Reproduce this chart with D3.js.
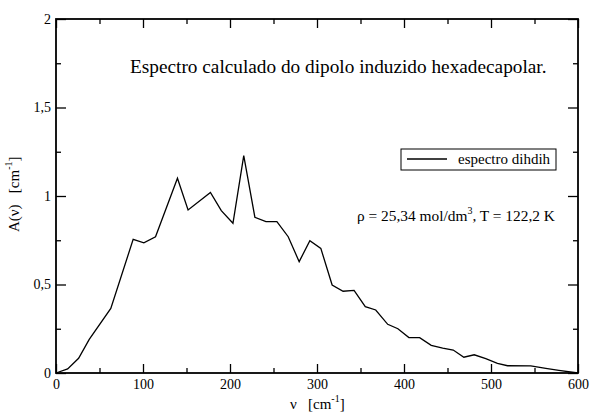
<!DOCTYPE html>
<html><head><meta charset="utf-8">
<script src="https://cdn.jsdelivr.net/npm/d3@7"></script>
<style>body{margin:0;background:#fff}text{font-family:"Liberation Serif","Times New Roman",serif;fill:#000;white-space:pre}</style>
</head><body><svg id="c" width="592" height="412"></svg>
<script>
const nu = [0, 13.4, 26, 38.2, 63, 88.7, 101, 114.4, 139.6, 151.8, 177.5, 190, 203.4, 215.8, 228.6, 241.3, 253.9, 266.9, 279.5, 291.8, 304.4, 317.4, 330, 342.6, 355.5, 367.5, 381.3, 393, 405.6, 418, 431.3, 444.5, 456.6, 468.8, 480.7, 494, 507.4, 519, 545.7, 563, 578, 600];
const A  = [0, 0.023, 0.083, 0.19, 0.365, 0.755, 0.735, 0.77, 1.10, 0.921, 1.02, 0.917, 0.846, 1.228, 0.88, 0.855, 0.855, 0.77, 0.629, 0.747, 0.704, 0.497, 0.462, 0.467, 0.375, 0.356, 0.275, 0.25, 0.2, 0.2, 0.156, 0.141, 0.13, 0.089, 0.103, 0.081, 0.055, 0.041, 0.04, 0.026, 0.015, 0];
const xTicks = [0, 100, 200, 300, 400, 500, 600];
const xMinor = [50, 150, 250, 350, 450, 550];
const yTicks = [0, 0.5, 1, 1.5, 2];
const yMinor = [0.25, 0.75, 1.25, 1.75];
const yTickLabels = ["0", "0,5", "1", "1,5", "2"];
const seriesName = "espectro dihdih";
const title = "Espectro calculado do dipolo induzido hexadecapolar.";

(function () {
const L = 56, R = 578, T = 19, B = 373;
const svg = d3.select("#c");
const x = d3.scaleLinear().domain([0, 600]).range([L, R]);
const y = d3.scaleLinear().domain([0, 2]).range([B, T]);

// curve
svg.append("path").datum(nu.map((v, i) => [v, A[i]]))
  .attr("fill", "none").attr("stroke", "#000").attr("stroke-width", 1.3)
  .attr("stroke-linejoin", "miter")
  .attr("d", d3.line().x(d => x(d[0])).y(d => y(d[1])));

// axes with inward ticks
const fmt = (v) => yTickLabels[yTicks.indexOf(v)];
svg.append("g").attr("transform", `translate(0,${B})`)
  .call(d3.axisBottom(x).tickValues(xTicks).tickSize(-9).tickPadding(6).tickFormat(d3.format("d")));
svg.append("g").attr("transform", `translate(0,${B})`)
  .call(d3.axisBottom(x).tickValues(xMinor).tickSize(-5).tickFormat(""));
svg.append("g").attr("transform", `translate(0,${T})`)
  .call(d3.axisTop(x).tickValues(xTicks).tickSize(-9).tickFormat(""));
svg.append("g").attr("transform", `translate(0,${T})`)
  .call(d3.axisTop(x).tickValues(xMinor).tickSize(-5).tickFormat(""));
svg.append("g").attr("transform", `translate(${L},0)`)
  .call(d3.axisLeft(y).tickValues(yTicks).tickSize(-10).tickPadding(5).tickFormat(fmt));
svg.append("g").attr("transform", `translate(${L},0)`)
  .call(d3.axisLeft(y).tickValues(yMinor).tickSize(-5).tickFormat(""));
svg.append("g").attr("transform", `translate(${R},0)`)
  .call(d3.axisRight(y).tickValues(yTicks).tickSize(-10).tickFormat(""));
svg.append("g").attr("transform", `translate(${R},0)`)
  .call(d3.axisRight(y).tickValues(yMinor).tickSize(-5).tickFormat(""));
svg.selectAll(".domain").remove();
svg.selectAll("g").attr("font-family", null).attr("font-size", null);
svg.selectAll(".tick line").attr("stroke", "#000").attr("stroke-width", 1.3);
svg.selectAll(".tick text").style("font-size", "14px").attr("fill", "#000");

// frame
svg.append("rect").attr("x", L).attr("y", T).attr("width", R - L).attr("height", B - T)
  .attr("fill", "none").attr("stroke", "#000").attr("stroke-width", 1.8);

// title
svg.append("text").attr("x", 130).attr("y", 73).style("font-size", "19.3px").text(title);

// legend
const lg = svg.append("g");
lg.append("rect").attr("x", 401).attr("y", 149).attr("width", 155).attr("height", 21)
  .attr("fill", "#fff").attr("stroke", "#000").attr("stroke-width", 1);
lg.append("line").attr("x1", 407).attr("x2", 447).attr("y1", 159).attr("y2", 159)
  .attr("stroke", "#000").attr("stroke-width", 1.3);
lg.append("text").attr("x", 458).attr("y", 164).style("font-size", "15px").text(seriesName);

// annotation
const an = svg.append("text").attr("x", 357).attr("y", 221).style("font-size", "15.4px");
an.append("tspan").text("ρ = 25,34 mol/dm");
an.append("tspan").attr("dy", -7).style("font-size", "10px").text("3");
an.append("tspan").attr("dy", 7).text(", T = 122,2 K");

// axis labels
const xl = svg.append("text").attr("x", 290).attr("y", 409).style("font-size", "15px");
xl.append("tspan").text("ν   [cm");
xl.append("tspan").attr("dy", -7).style("font-size", "10px").text("-1");
xl.append("tspan").attr("dy", 7).text("]");

const yl = svg.append("text").attr("transform", "translate(19,232) rotate(-90)").style("font-size", "15px");
yl.append("tspan").text("A(ν)   [cm");
yl.append("tspan").attr("dy", -7).style("font-size", "10px").text("-1");
yl.append("tspan").attr("dy", 7).text("]");
})();
</script></body></html>
